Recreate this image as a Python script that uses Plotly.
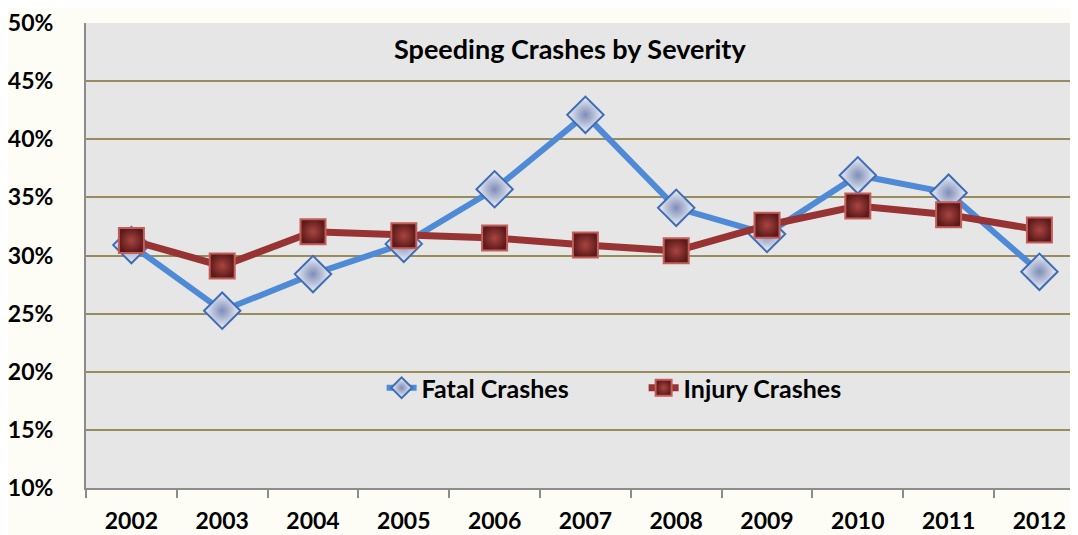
import plotly.graph_objects as go

years = ["2002", "2003", "2004", "2005", "2006", "2007", "2008", "2009", "2010", "2011", "2012"]
fatal = [0.309, 0.2525, 0.284, 0.310, 0.357, 0.421, 0.341, 0.3185, 0.369, 0.354, 0.286]
injury = [0.313, 0.291, 0.3205, 0.317, 0.315, 0.309, 0.304, 0.326, 0.3425, 0.335, 0.322]
y_ticks = [0.10, 0.15, 0.20, 0.25, 0.30, 0.35, 0.40, 0.45, 0.50]

FONT = "Lato"

fig = go.Figure()
fig.add_trace(go.Scatter(
    x=years, y=fatal, name="Fatal Crashes", mode="lines+markers",
    line=dict(color="#4F8AD6", width=6),
    marker=dict(symbol="diamond", size=28, color="#F0F2F8",
                gradient=dict(type="radial", color="#7E8DB8"),
                line=dict(color="#3F6DB5", width=2)),
))
fig.add_trace(go.Scatter(
    x=years, y=injury, name="Injury Crashes", mode="lines+markers",
    line=dict(color="#973332", width=7),
    marker=dict(symbol="square", size=25, color="#5E1A1A",
                gradient=dict(type="radial", color="#A84542"),
                line=dict(color="#C25E5A", width=2)),
))

# page body has an 8px margin, so the figure is sized 8px smaller
fig.update_layout(
    width=1070, height=527,
    margin=dict(l=78, r=0, t=15, b=47),
    paper_bgcolor="#FDFDF6",
    plot_bgcolor="#E6E6E6",
    font=dict(family=FONT, size=23, color="#000000", weight="bold"),
    showlegend=True,
    legend=dict(orientation="h", x=0.298, y=0.215, xanchor="left", yanchor="middle",
                bgcolor="rgba(0,0,0,0)",
                font=dict(family=FONT, size=25, color="#000", weight="bold"),
                entrywidth=217, entrywidthmode="pixels",
                tracegroupgap=0),
    annotations=[dict(text="<b>Speeding Crashes by Severity</b>", x=0.488, y=0.946,
                      xref="paper", yref="paper", showarrow=False,
                      xanchor="center", yanchor="middle",
                      font=dict(family=FONT, size=27, color="#000"))],
)
fig.update_xaxes(
    type="category", range=[-0.5, 10.425],
    showgrid=False, showline=True, linecolor="#8C8C8C", linewidth=2,
    ticks="outside", tickson="boundaries", ticklen=8, tickcolor="#8C8C8C", tickwidth=2,
    tickfont=dict(family=FONT, size=23, color="#000", weight="bold"),
    ticklabelstandoff=11,
)
fig.update_yaxes(
    range=[0.10, 0.50], tickvals=y_ticks, tickformat=".0%",
    showgrid=True, gridcolor="#978C5B", gridwidth=2,
    showline=True, linecolor="#8C8C8C", linewidth=2,
    ticks="", zeroline=False,
    tickfont=dict(family=FONT, size=23, color="#000", weight="bold"),
    ticklabelstandoff=26,
)

fig.write_html("out.html")
